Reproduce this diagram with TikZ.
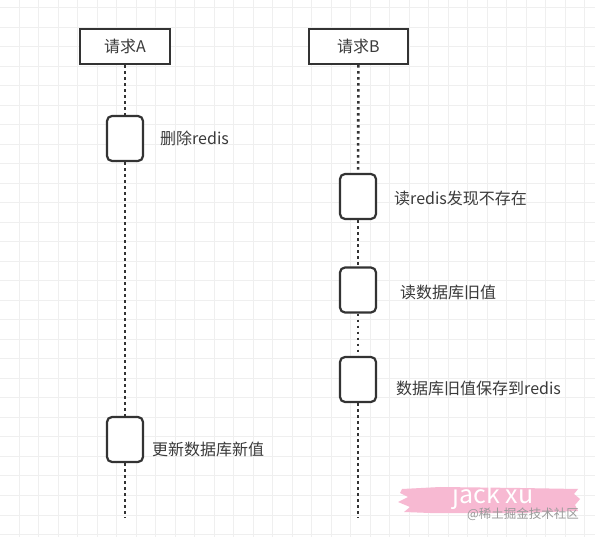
\documentclass[tikz,border=0pt]{standalone}
\usepackage{fontspec}
\setmainfont{Noto Sans CJK SC}
\definecolor{linegray}{HTML}{333333}
\definecolor{txtgray}{HTML}{3A3A3A}
\definecolor{gridgray}{HTML}{EFEFEF}
\definecolor{brushpink}{HTML}{F7B9D2}
\definecolor{markgray}{HTML}{9A9A9A}
\begin{document}
\begin{tikzpicture}
  [x=1pt,y=-1pt,
   every node/.style={font=\fontsize{16}{19}\selectfont,text=txtgray},
   actor/.style={draw=linegray,line width=2.4pt,minimum width=90pt,minimum height=35pt,inner sep=0pt,fill=white},
   act/.style={draw=linegray,line width=2.2pt,rounded corners=5pt,minimum width=36pt,minimum height=45pt,inner sep=0pt,fill=white},
   note/.style={anchor=west,inner sep=0pt},
   life/.style={linegray,line width=2.6pt,dash pattern=on 2.5pt off 3.5pt}]

  % background and grid
  \fill[white] (0,0) rectangle (595,537);
  \useasboundingbox (0,0) rectangle (595,537);
  \foreach \i in {1,...,30}
     \draw[gridgray,line width=1pt] (\i*19.5-0.5,0) -- (\i*19.5-0.5,537);
  \foreach \j in {0,...,27}
     \draw[gridgray,line width=1pt] (0,8+\j*19.5) -- (595,8+\j*19.5);

  % lifelines
  \node[actor] (reqA) at (125,46.5) {请求A};
  \node[actor,minimum width=99pt] (reqB) at (358.5,46.5) {请求B};

  \coordinate (endA) at (125,518);
  \coordinate (endB) at (358,518);

  \node[act] (a1) at (125,138.5) {};
  \node[act] (a2) at (125,439.5) {};
  \node[act] (b1) at (358,196.5) {};
  \node[act] (b2) at (358,290) {};
  \node[act] (b3) at (358,379.5) {};

  \foreach \from/\to in {reqA/a1,a1/a2,a2/endA,reqB/b1,b1/b2,b2/b3,b3/endB}
     \draw[life] (\from) -- (\to);

  % labels
  \node[note] (delA) at (160,138) {删除redis};
  \node[note] (missB) at (394,198) {读redis发现不存在};
  \node[note] (readB) at (400,292) {读数据库旧值};
  \node[note] (saveB) at (396,388) {数据库旧值保存到redis};
  \node[note] (updA) at (152,449) {更新数据库新值};

  % watermark
  \fill[brushpink] (402,489) -- (440,487) -- (520,488) -- (578,489) -- (574,494)
     -- (580,499) -- (575,505) -- (578,511) -- (520,513) -- (430,513) -- (404,512)
     -- (410,507) -- (398,502) -- (408,497) -- (400,493) -- cycle;
  \node[text=white,font=\fontsize{25}{28}\selectfont] (mark) at (493,497) {jack xu};
  \node[text=markgray,font=\fontsize{12.5}{14}\selectfont] (site) at (523,514) {@稀土掘金技术社区};
\end{tikzpicture}
\end{document}
